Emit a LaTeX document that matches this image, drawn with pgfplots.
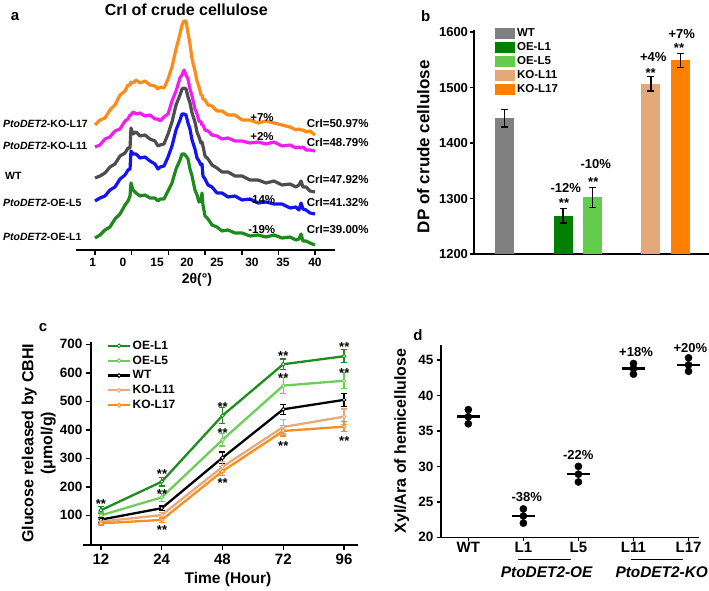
\documentclass[border=0pt]{standalone}
\usepackage{fontspec}
\setmainfont{Liberation Sans}
\usepackage{pgfplots}
\pgfplotsset{compat=1.18}
\usepackage{pgfplotstable}

\definecolor{aOr}{RGB}{255,140,26}
\definecolor{aMg}{RGB}{240,30,240}
\definecolor{aGy}{RGB}{77,77,77}
\definecolor{aBl}{RGB}{20,20,240}
\definecolor{aGr}{RGB}{30,138,30}
\definecolor{bWT}{RGB}{128,128,128}
\definecolor{bL1}{RGB}{0,128,0}
\definecolor{bL5}{RGB}{100,204,76}
\definecolor{bL11}{RGB}{226,168,120}
\definecolor{bL17}{RGB}{255,128,0}
\definecolor{cL1}{RGB}{30,140,30}
\definecolor{cL5}{RGB}{110,205,90}
\definecolor{cL11}{RGB}{228,170,125}
\definecolor{cL17}{RGB}{255,140,30}

\newcommand{\fs}[1]{\fontsize{#1}{#1}\selectfont\bfseries}

% XRD curves, 2theta (deg) vs. intensity (a.u., offset per line)
\pgfplotstableread{
x o m g b e
10.00 123 101 70 47 10
10.68 128 103 72 50 13
11.36 130 109 75 52 18
12.04 138 111 81 58 21
12.72 143 117 84 61 29
13.41 153 119 92 69 34
14.09 157 127 95 73 43
14.50 163 129 100 78 47
14.77 163 133 100 79 52
14.90 166 133 120 97 65
15.18 165 136 114 94 58
15.59 168 134 116 94 55
16.13 165 135 112 90 52
16.81 167 132 113 91 53
17.49 163 133 109 87 50
18.17 162 129 107 84 50
18.58 159 129 102 79 47
18.86 161 127 103 81 49
19.40 160 131 104 82 49
19.95 169 134 114 91 57
20.49 181 147 126 102 65
21.04 199 157 143 118 79
21.58 214 170 153 128 88
21.85 223 173 159 134 94
22.13 227 178 160 134 94
22.40 227 173 159 133 92
22.67 215 169 151 125 89
22.94 204 159 145 119 79
23.22 189 152 135 108 72
23.62 177 139 126 99 58
23.90 167 134 116 90 53
24.17 161 127 111 87 46
24.44 153 126 105 83 48
24.58 153 123 106 84 55
24.71 149 123 102 72 43
24.99 148 118 92 69 32
25.40 143 117 89 63 29
25.94 142 113 83 61 23
26.62 137 112 80 55 21
27.30 137 109 76 55 17
28.12 133 110 76 51 18
29.07 133 107 72 52 15
30.03 128 107 72 48 15
31.12 128 105 68 49 12
32.21 125 106 68 45 13
33.30 127 104 65 46 11
34.39 125 106 67 44 13
35.48 123 102 63 44 10
36.57 121 103 64 40 11
37.38 118 100 61 41 8
37.79 119 101 63 38 9
38.07 118 100 67 45 14
38.34 118 101 61 39 7
38.75 116 98 61 38 7
39.29 117 98 57 35 5
39.97 113 97 56 34 3
}\xrd

\pgfplotsset{
  ser/.style={#1, line width=2.3pt, mark=*, mark size=1.9pt,
    mark options={fill=white, draw=#1, line width=0.9pt, solid},
    error bars/y dir=both, error bars/y explicit,
    error bars/error bar style={line width=1.2pt, #1},
    error bars/error mark options={rotate=90, mark size=3pt, line width=1.2pt, #1}},
  bars/.style={ybar, bar width=19pt, bar shift=0pt, fill=#1, draw=none, forget plot,
    error bars/y dir=both, error bars/y explicit,
    error bars/error bar style={line width=1.3pt, black},
    error bars/error mark options={rotate=90, mark size=3.5pt, line width=1.3pt, black}},
}

\begin{document}
\begin{tikzpicture}
\path[use as bounding box] (0,0) rectangle (709pt,591pt);

% ---------------- panel a ----------------
\begin{axis}[at={(76pt,341pt)}, anchor=south west, scale only axis,
  width=259pt, height=242pt, xmin=7.41, xmax=42.7, ymin=-2, ymax=240,
  axis x line*=bottom, axis y line=none,
  axis line style={line width=1.5pt},
  xtick={10,15,...,40}, xticklabels={},
  tick align=outside, major tick length=5pt,
  tick style={line width=1.5pt, black},
  extra x ticks={9.69,13.81,18.45,22.53,26.62,31.39,35.61,39.97},
  extra x tick labels={1,0,15,20,25,30,35,40},
  extra x tick style={major tick length=0pt, tick style={draw=none}},
  xticklabel style={font=\fs{12}, yshift=-5pt},
  clip=false]
\addplot[aOr, line width=3.2pt, line join=round] table[x=x,y=o]{\xrd};
\addplot[aMg, line width=3.2pt, line join=round] table[x=x,y=m]{\xrd};
\addplot[aGy, line width=3.2pt, line join=round] table[x=x,y=g]{\xrd};
\addplot[aBl, line width=3.2pt, line join=round] table[x=x,y=b]{\xrd};
\addplot[aGr, line width=3.2pt, line join=round] table[x=x,y=e]{\xrd};
\end{axis}

% ---------------- panel b ----------------
\begin{axis}[at={(474pt,337pt)}, anchor=south west, scale only axis,
  width=235pt, height=224pt, xmin=-1.04, xmax=6.98, ymin=1200, ymax=1604,
  axis x line*=bottom, axis y line*=left,
  axis line style={line width=1.5pt},
  xtick=\empty, ytick={1200,1300,...,1600},
  tick align=outside, major tick length=4.5pt,
  tick style={line width=1.5pt, black},
  yticklabel style={font=\fs{13}, xshift=2pt},
  /pgf/number format/assume math mode=true,
  /pgf/number format/1000 sep={},
  legend style={at={(0.0894,1.0076)}, anchor=north west, draw=none, fill=none,
    inner sep=0pt, row sep=3.5pt, column sep=2.5pt, font=\fs{11.5},
    nodes={inner sep=0pt}},
  legend cell align=left]
\addplot[bars=bWT] coordinates {(0,1445) +- (0,16)};
\addplot[bars=bL1] coordinates {(2,1269) +- (0,13)};
\addplot[bars=bL5] coordinates {(3,1302) +- (0,18)};
\addplot[bars=bL11] coordinates {(5,1507) +- (0,13)};
\addplot[bars=bL17] coordinates {(6,1549) +- (0,13)};
\addlegendimage{legend image code/.code={\fill[bWT] (0pt,-5pt) rectangle (19pt,5pt);}}
\addlegendentry{WT}
\addlegendimage{legend image code/.code={\fill[bL1] (0pt,-5pt) rectangle (19pt,5pt);}}
\addlegendentry{OE-L1}
\addlegendimage{legend image code/.code={\fill[bL5] (0pt,-5pt) rectangle (19pt,5pt);}}
\addlegendentry{OE-L5}
\addlegendimage{legend image code/.code={\fill[bL11] (0pt,-5pt) rectangle (19pt,5pt);}}
\addlegendentry{KO-L11}
\addlegendimage{legend image code/.code={\fill[bL17] (0pt,-5pt) rectangle (19pt,5pt);}}
\addlegendentry{KO-L17}
\end{axis}

% ---------------- panel c ----------------
\begin{axis}[at={(91pt,46pt)}, anchor=south west, scale only axis,
  width=267pt, height=203.3pt, xmin=-0.164, xmax=4.23, ymin=-4, ymax=709,
  axis x line*=bottom, axis y line*=left,
  axis line style={line width=1.5pt},
  xtick={0,...,4}, xticklabels={12,24,48,72,96},
  ytick={100,200,...,700},
  tick align=outside, major tick length=5pt,
  tick style={line width=1.5pt, black},
  xticklabel style={font=\fs{15}},
  yticklabel style={font=\fs{13.5}},
  /pgf/number format/assume math mode=true,
  legend style={at={(0.0588,1.005)}, anchor=north west, draw=none, fill=none,
    inner sep=0pt, row sep=5pt, column sep=1.5pt, font=\fs{12},
    nodes={inner sep=0pt}},
  legend cell align=left,
  legend image code/.code={\draw[mark repeat=2, mark phase=2, #1] plot coordinates {(0pt,0pt) (11pt,0pt) (22pt,0pt)};}]
\addplot[ser=cL1] coordinates {(0,118) +- (0,12) (1,218) +- (0,15) (2,450) +- (0,28) (3,630) +- (0,18) (4,658) +- (0,23)};
\addlegendentry{OE-L1}
\addplot[ser=cL5] coordinates {(0,100) +- (0,12) (1,163) +- (0,15) (2,365) +- (0,22) (3,555) +- (0,28) (4,572) +- (0,28)};
\addlegendentry{OE-L5}
\addplot[ser=black] coordinates {(0,85) +- (0,8) (1,125) +- (0,8) (2,302) +- (0,20) (3,472) +- (0,18) (4,505) +- (0,22)};
\addlegendentry{WT}
\addplot[ser=cL11] coordinates {(0,78) +- (0,8) (1,101) +- (0,10) (2,270) +- (0,18) (3,410) +- (0,25) (4,446) +- (0,27)};
\addlegendentry{KO-L11}
\addplot[ser=cL17] coordinates {(0,72) +- (0,6) (1,84) +- (0,8) (2,255) +- (0,15) (3,396) +- (0,18) (4,411) +- (0,18)};
\addlegendentry{KO-L17}
\end{axis}

% ---------------- panel d ----------------
\begin{axis}[at={(441pt,53.7pt)}, anchor=south west, scale only axis,
  width=258pt, height=192.3pt, xmin=-0.496, xmax=4.19, ymin=20, ymax=47.11,
  axis x line*=bottom, axis y line*=left,
  axis line style={line width=1.5pt},
  xtick={0,...,4}, xticklabels={WT,L1,L5,L11,L17},
  ytick={20,25,...,45},
  tick align=outside, major tick length=4pt,
  tick style={line width=1.5pt, black},
  xticklabel style={font=\fs{15}, yshift=2.5pt},
  yticklabel style={font=\fs{13.5}},
  /pgf/number format/assume math mode=true,
  clip=false]
\addplot[only marks, mark=*, mark size=3.6pt, black] coordinates {
  (0,38.0) (0,37.0) (0,36.0)
  (1,24.0) (1,23.0) (1,22.0)
  (2,30.0) (2,28.9) (2,27.8)
  (3,44.5) (3,43.8) (3,43.0)
  (4,45.3) (4,44.3) (4,43.4)};
\addplot[only marks, mark=-, mark size=11.5pt, mark options={line width=2.5pt}, black] coordinates {
  (0,37.0) (1,23.0) (2,28.9) (3,43.8) (4,44.3)};
\end{axis}

% ---------------- text (pixel coordinates from top-left) ----------------
\begin{scope}[shift={(0pt,591pt)}, every node/.append style={inner sep=0pt}]
% panel a
\node[font=\fs{15}] at (15pt,-17pt) {a};
\node[font=\fs{16}] at (186.3pt,-10pt) {CrI of crude cellulose};
\node[font=\fs{10.5}, anchor=west] at (3pt,-124pt) {\textit{PtoDET2}-KO-L17};
\node[font=\fs{10.5}, anchor=west] at (3pt,-146pt) {\textit{PtoDET2}-KO-L11};
\node[font=\fs{10.5}, anchor=west] at (5pt,-176pt) {WT};
\node[font=\fs{10.5}, anchor=west] at (3pt,-202.7pt) {\textit{PtoDET2}-OE-L5};
\node[font=\fs{10.5}, anchor=west] at (3pt,-237.3pt) {\textit{PtoDET2}-OE-L1};
\node[font=\fs{11.5}, anchor=west] at (306.7pt,-124pt) {CrI=50.97\%};
\node[font=\fs{11.5}, anchor=west] at (306.7pt,-142.7pt) {CrI=48.79\%};
\node[font=\fs{11.5}, anchor=west] at (306.7pt,-180pt) {CrI=47.92\%};
\node[font=\fs{11.5}, anchor=west] at (306.7pt,-202.7pt) {CrI=41.32\%};
\node[font=\fs{11.5}, anchor=west] at (306.7pt,-230pt) {CrI=39.00\%};
\node[font=\fs{11.5}] at (262pt,-117.3pt) {+7\%};
\node[font=\fs{11.5}] at (262pt,-136.7pt) {+2\%};
\node[font=\fs{11.5}] at (261.7pt,-199.3pt) {-14\%};
\node[font=\fs{11.5}] at (261.7pt,-230pt) {-19\%};
\node[font=\fs{14}] at (197pt,-279.5pt) {2θ(°)};
% panel b
\node[font=\fs{15}] at (425.7pt,-16pt) {b};
\node[font=\fs{17}, rotate=90] at (423.3pt,-146.7pt) {DP of crude cellulose};
\node[font=\fs{13}] at (565.7pt,-188.3pt) {-12\%};
\node[font=\fs{13}] at (564pt,-202.7pt) {**};
\node[font=\fs{13}] at (595.7pt,-164.3pt) {-10\%};
\node[font=\fs{13}] at (593.3pt,-181.7pt) {**};
\node[font=\fs{13}] at (653.3pt,-56.7pt) {+4\%};
\node[font=\fs{13}] at (650.7pt,-72.7pt) {**};
\node[font=\fs{13}] at (681.7pt,-34.3pt) {+7\%};
\node[font=\fs{13}] at (679pt,-48.4pt) {**};
% panel c
\node[font=\fs{15}] at (43pt,-328pt) {c};
\node[font=\fs{16}, rotate=90, align=center] at (38.8pt,-443.3pt) {Glucose released by CBHI\\[3pt](μmol/g)};
\node[font=\fs{15.5}] at (228pt,-579pt) {Time (Hour)};
\draw[line width=1.5pt] (83pt,-545pt) -- (91.5pt,-545pt);
\foreach \x/\y in {101/501, 162/471.7, 162/491, 162/527.7, 222.7/404.3, 222.7/430, 222.7/480,
  283.3/353.3, 283.3/375, 283.3/443.3, 344.3/344.3, 344.3/370, 344.3/438.3}
  \node[font=\fs{13}] at (\x pt,-\y pt-2.7pt) {**};
% panel d
\node[font=\fs{15}] at (418pt,-335pt) {d};
\node[font=\fs{16}, rotate=90] at (401.7pt,-441pt) {Xyl/Ara of hemicellulose};
\node[font=\fs{13}] at (526.7pt,-497.3pt) {-38\%};
\node[font=\fs{13}] at (578.3pt,-455pt) {-22\%};
\node[font=\fs{13}] at (636pt,-351.7pt) {+18\%};
\node[font=\fs{13}] at (690.3pt,-348.3pt) {+20\%};
\draw[line width=1.5pt] (437pt,-537.3pt) -- (441.5pt,-537.3pt);
\draw[line width=1.2pt] (518pt,-559.5pt) -- (571pt,-559.5pt);
\draw[line width=1.2pt] (630.7pt,-559.5pt) -- (683.3pt,-559.5pt);
\node[font=\fs{15.4}\itshape] at (546.7pt,-572pt) {PtoDET2-OE};
\node[font=\fs{15.4}\itshape] at (661.7pt,-572pt) {PtoDET2-KO};
\end{scope}
\end{tikzpicture}
\end{document}
